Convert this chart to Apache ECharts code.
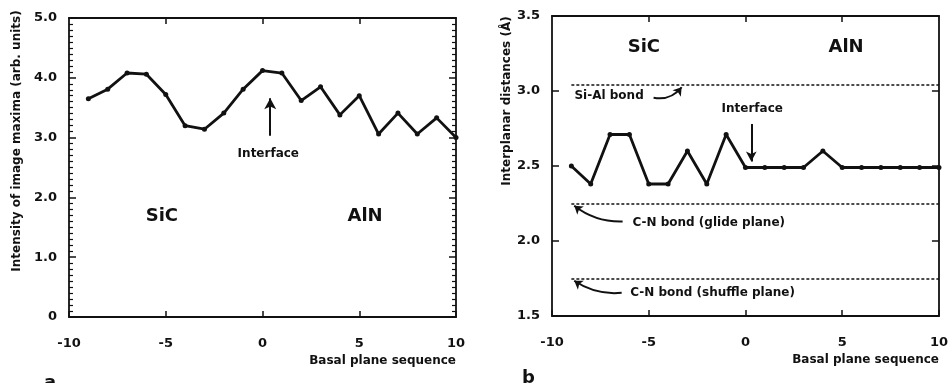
<!DOCTYPE html>
<html>
<head>
<meta charset="utf-8">
<script src="https://cdn.jsdelivr.net/npm/echarts@6/dist/echarts.min.js"></script>
<style>
  html, body { margin: 0; padding: 0; background: #fff; }
  #chart { width: 951px; height: 383px; }
</style>
</head>
<body>
<div id="chart"></div>
<script>
// basal plane index (x) shared by both panels
const planes = [-9, -8, -7, -6, -5, -4, -3, -2, -1, 0, 1, 2, 3, 4, 5, 6, 7, 8, 9, 10]
// panel a: intensity of image maxima (arb. units)
const intensity = [3.65, 3.81, 4.08, 4.06, 3.72, 3.2, 3.14, 3.41, 3.81, 4.12, 4.08, 3.62, 3.85, 3.38, 3.7, 3.06, 3.41, 3.06, 3.33, 3.0]
// panel b: interplanar distances (Å)
const spacing = [2.5, 2.38, 2.71, 2.71, 2.38, 2.38, 2.6, 2.38, 2.71, 2.49, 2.49, 2.49, 2.49, 2.6, 2.49, 2.49, 2.49, 2.49, 2.49, 2.49]
// reference bond lengths drawn as dashed lines in panel b
const bondNames = ['Si-Al bond', 'C-N bond (glide plane)', 'C-N bond (shuffle plane)']
const bondLevels = [3.04, 2.25, 1.75]
const bondStart = -9
const bondEnd = 10

const FONT = '"DejaVu Sans", sans-serif'
const ink = '#111'

const chart = echarts.init(document.getElementById('chart'))

function txt(coord, text, size) {
  return {
    coord, value: 0,
    symbol: 'circle', symbolSize: 1,
    itemStyle: { color: 'rgba(0,0,0,0)' },
    label: { show: true, position: 'inside', formatter: text, color: ink, fontFamily: FONT, fontWeight: 'bold', fontSize: size }
  }
}

function xAxisPair(gridIndex) {
  const base = {
    type: 'value', gridIndex, min: -10, max: 10, interval: 5,
    axisLine: { show: true, onZero: false, lineStyle: { color: ink, width: 1.8 } },
    splitLine: { show: false }
  }
  return [
    Object.assign({}, base, {
      position: 'bottom',
      axisTick: { show: true, inside: true, length: 6, lineStyle: { color: ink, width: 1.5 } },
      axisLabel: { margin: 20, color: ink, fontFamily: FONT, fontWeight: 'bold', fontSize: 13, formatter: v => String(v) },
      name: 'Basal plane sequence', nameLocation: 'end', nameGap: 0,
      nameTextStyle: { color: ink, fontFamily: FONT, fontWeight: 'bold', fontSize: 12, align: 'right', verticalAlign: 'top', padding: [38, 0, 0, 0] }
    }),
    Object.assign({}, base, {
      position: 'top',
      axisTick: { show: true, inside: true, length: 6, lineStyle: { color: ink, width: 1.5 }, customValues: [-5, 0, 5] },
      axisLabel: { show: false }
    })
  ]
}

function yAxisPair(gridIndex, min, max, interval, minor, fmt) {
  const base = {
    type: 'value', gridIndex, min, max, interval,
    axisLine: { show: true, onZero: false, lineStyle: { color: ink, width: 1.8 } },
    splitLine: { show: false },
    axisTick: { show: true, inside: true, length: 7, lineStyle: { color: ink, width: 1.5 } },
    minorTick: { show: minor, splitNumber: 10, length: 4, lineStyle: { color: ink, width: 1.2 } },
    minorSplitLine: { show: false }
  }
  return [
    Object.assign({}, base, {
      position: 'left',
      axisLabel: { margin: 12, color: ink, fontFamily: FONT, fontWeight: 'bold', fontSize: 13, formatter: fmt }
    }),
    Object.assign({}, base, { position: 'right', axisLabel: { show: false } })
  ]
}

const xa = xAxisPair(0)
const xb = xAxisPair(1)
const ya = yAxisPair(0, 0, 5, 1, true, v => v === 0 ? '0' : v.toFixed(1))
const yb = yAxisPair(1, 1.5, 3.5, 0.5, false, v => v.toFixed(1))

const lineStyle = { color: ink, width: 2.8 }
const arrowStyle = { color: ink, width: 2, type: 'solid' }

chart.setOption({
  backgroundColor: '#fff',
  animation: false,
  grid: [
    { left: 69, right: 495, top: 18, bottom: 66 },
    { left: 552, right: 7, top: 16, bottom: 67 }
  ],
  xAxis: [xa[0], xa[1], xb[0], xb[1]],
  yAxis: [ya[0], ya[1], yb[0], yb[1]],
  graphic: [
    { type: 'text', x: 17, y: 141, rotation: Math.PI / 2,
      style: { text: 'Intensity of image maxima (arb. units)', fill: ink, font: 'bold 12px ' + FONT, align: 'center', verticalAlign: 'middle' } },
    { type: 'text', x: 507, y: 101, rotation: Math.PI / 2,
      style: { text: 'Interplanar distances (Å)', fill: ink, font: 'bold 12px ' + FONT, align: 'center', verticalAlign: 'middle' } },
    { type: 'text', x: 44, y: 374, style: { text: 'a', fill: ink, font: 'bold 18px ' + FONT } },
    { type: 'text', x: 522, y: 369, style: { text: 'b', fill: ink, font: 'bold 18px ' + FONT } }
  ],
  series: [
    {
      type: 'line', xAxisIndex: 0, yAxisIndex: 0,
      data: planes.map((p, i) => [p, intensity[i]]),
      symbol: 'circle', symbolSize: 5, itemStyle: { color: ink },
      lineStyle,
      markPoint: {
        silent: true,
        data: [
          txt([-5.2, 1.69], 'SiC', 18),
          txt([5.3, 1.69], 'AlN', 18),
          txt([0.3, 2.73], 'Interface', 12)
        ]
      },
      markLine: {
        silent: true, symbol: ['none', 'arrow'], symbolSize: [9, 11],
        label: { show: false }, lineStyle: arrowStyle,
        data: [[{ coord: [0.4, 3.03] }, { coord: [0.4, 3.66] }]]
      }
    },
    {
      type: 'line', xAxisIndex: 2, yAxisIndex: 2,
      data: planes.map((p, i) => [p, spacing[i]]),
      symbol: 'circle', symbolSize: 5, itemStyle: { color: ink },
      lineStyle,
      markPoint: {
        silent: true,
        data: [
          txt([-5.25, 3.29], 'SiC', 18),
          txt([5.2, 3.29], 'AlN', 18),
          txt([0.35, 2.88], 'Interface', 12),
          txt([-7.05, 2.965], bondNames[0], 12),
          txt([-1.9, 2.12], bondNames[1], 12),
          txt([-1.7, 1.653], bondNames[2], 12)
        ]
      },
      markLine: {
        silent: true, symbol: ['none', 'arrow'], symbolSize: [8, 10],
        label: { show: false }, lineStyle: arrowStyle,
        data: [[{ coord: [0.3, 2.78] }, { coord: [0.3, 2.53] }]]
      }
    },
    {
      // dashed reference bond lengths
      type: 'line', xAxisIndex: 2, yAxisIndex: 2,
      data: [], symbol: 'none',
      markLine: {
        silent: true, symbol: 'none', label: { show: false },
        lineStyle: { color: ink, width: 1.6, type: [3, 2] },
        data: bondLevels.map(v => [{ coord: [bondStart, v] }, { coord: [bondEnd, v] }])
      }
    },
    {
      // curved pointers from the bond labels to their lines
      type: 'lines', coordinateSystem: 'cartesian2d', xAxisIndex: 2, yAxisIndex: 2,
      silent: true, symbol: ['none', 'arrow'], symbolSize: 8,
      lineStyle: { color: ink, width: 2, opacity: 1 },
      data: [
        { coords: [[-4.75, 2.955], [-3.3, 3.025]], lineStyle: { curveness: -0.3 } },
        { coords: [[-6.35, 2.13], [-8.85, 2.235]], lineStyle: { curveness: 0.18 } },
        { coords: [[-6.4, 1.655], [-8.85, 1.735]], lineStyle: { curveness: 0.18 } }
      ]
    }
  ]
})
</script>
</body>
</html>
